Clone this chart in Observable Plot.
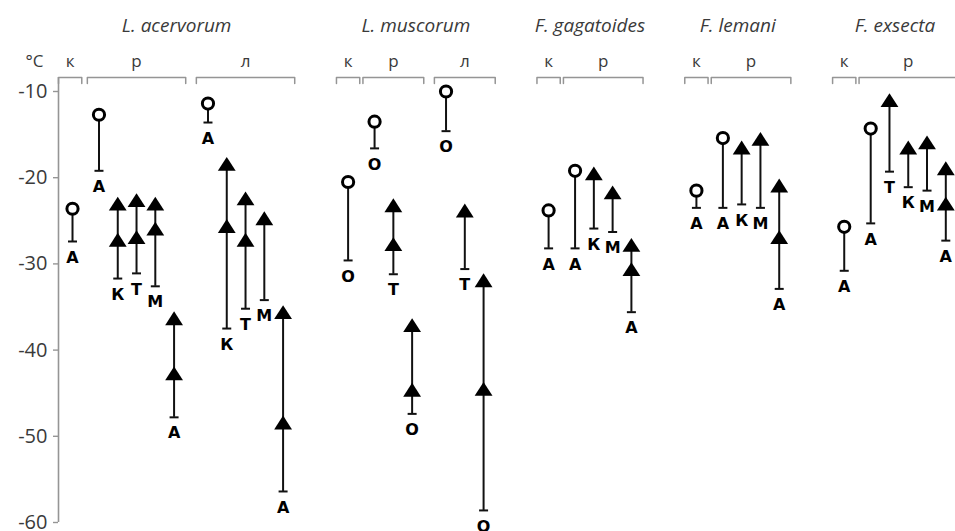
<!DOCTYPE html>
<html>
<head>
<meta charset="utf-8">
<script src="https://cdn.jsdelivr.net/npm/d3@7"></script>
<script src="https://cdn.jsdelivr.net/npm/@observablehq/plot@0.6"></script>
<style>
  html, body { margin: 0; padding: 0; background: #fff; }
  #chart svg { display: block; }
</style>
</head>
<body>
<div id="chart"></div>
<script>
// ---------- data ----------
const speciesNames = ["L. acervorum", "L. muscorum", "F. gagatoides", "F. lemani", "F. exsecta"];
const yTicks = [-10, -20, -30, -40, -50, -60];
const tempUnit = "°C";

// one entry per vertical bar
const elSpecies = [0,0,0,0,0,0,0,0,0,0,0, 1,1,1,1,1,1,1, 2,2,2,2,2, 3,3,3,3,3, 4,4,4,4,4,4];
const elGroup = ["к","р","р","р","р","р","л","л","л","л","л",
                 "к","р","р","р","л","л","л",
                 "к","р","р","р","р",
                 "к","р","р","р","р",
                 "к","р","р","р","р","р"];
const elMarker = ["o","o","t","t","t","t","o","t","t","t","t",
                  "o","o","t","t","o","t","t",
                  "o","o","t","t","t",
                  "o","o","t","t","t",
                  "o","o","t","t","t","t"];
const elTop = [-23.6,-12.7,-23.0,-22.6,-23.0,-36.3,-11.4,-18.4,-22.4,-24.7,-35.6,
               -20.5,-13.5,-23.2,-37.1,-10.0,-23.8,-31.9,
               -23.8,-19.2,-19.5,-21.7,-27.8,
               -21.5,-15.4,-16.5,-15.5,-20.9,
               -25.7,-14.3,-11.0,-16.5,-15.9,-18.9];
const elMid = [null,null,-27.2,-26.9,-25.9,-42.7,null,-25.6,-27.2,null,-48.4,
               null,null,-27.7,-44.6,null,null,-44.5,
               null,null,null,null,-30.6,
               null,null,null,null,-26.9,
               null,null,null,null,null,-23.0];
const elBottom = [-27.4,-19.2,-31.7,-31.1,-32.6,-47.8,-13.6,-37.5,-35.2,-34.2,-56.4,
                  -29.6,-16.6,-31.2,-47.4,-14.6,-30.6,-58.6,
                  -28.2,-28.2,-25.9,-26.3,-35.6,
                  -23.5,-23.5,-23.1,-23.5,-32.9,
                  -30.8,-25.3,-19.3,-21.1,-21.5,-27.3];
const elLabel = ["А","А","К","Т","М","А","А","К","Т","М","А",
                 "О","О","Т","О","О","Т","О",
                 "А","А","К","М","А",
                 "А","А","К","М","А",
                 "А","А","Т","К","М","А"];

// ---------- layout (slot units along x) ----------
const GAP_KR = 1.41, GAP_RL = 1.806, GAP_SP = 3.463, AXIS_X = -0.746, PAD = 0.62;
const Y_BR_TOP = -8.38, Y_BR_BOT = -9.07, Y_GROUP = -6.47, Y_TITLE = -2.41;

const els = [];
let cur = 0;
for (let i = 0; i < elTop.length; i++) {
  if (i > 0) {
    if (elSpecies[i] !== elSpecies[i-1]) cur += GAP_SP;
    else if (elGroup[i] !== elGroup[i-1]) cur += (elGroup[i] === "л" ? GAP_RL : GAP_KR);
    else cur += 1;
  }
  els.push({pos: cur, sp: elSpecies[i], grp: elGroup[i], marker: elMarker[i],
            top: elTop[i], mid: elMid[i], bottom: elBottom[i], label: elLabel[i]});
}
const xMax = cur;

// brackets per (species, group)
const groups = d3.groups(els, d => d.sp + "|" + d.grp).map(([key, arr], k) => {
  let left = d3.min(arr, d => d.pos) - PAD;
  let right = d3.max(arr, d => d.pos) + PAD;
  if (k === 0) { const w = right - left; left = AXIS_X; right = AXIS_X + w; }
  return {key, grp: arr[0].grp, sp: arr[0].sp, left, right, mid: (left + right) / 2};
});
const bracketPts = groups.flatMap(g => [
  {id: g.key, x: g.left, y: Y_BR_BOT}, {id: g.key, x: g.left, y: Y_BR_TOP},
  {id: g.key, x: g.right, y: Y_BR_TOP}, {id: g.key, x: g.right, y: Y_BR_BOT}
]);
const titles = speciesNames.map((name, s) => {
  const gs = groups.filter(g => g.sp === s);
  return {name, x: (d3.min(gs, g => g.left) + d3.max(gs, g => g.right)) / 2};
});

// custom symbols
const triSymbol = {draw(ctx, size) {
  const r = Math.sqrt(size / Math.PI), w = r * 2.7, h = r * 2.1;
  ctx.moveTo(0, -h / 2); ctx.lineTo(w / 2, h / 2); ctx.lineTo(-w / 2, h / 2); ctx.closePath();
}};
const capSymbol = {draw(ctx, size) {
  const r = Math.sqrt(size / Math.PI);
  ctx.moveTo(-r, 0); ctx.lineTo(r, 0);
}};

const textColor = "#3a3a3a", lineGray = "#959595", ink = "#111";

const chart = Plot.plot({
  width: 955, height: 531,
  marginLeft: 58, marginRight: 9.7, marginTop: 91, marginBottom: 9,
  x: {domain: [AXIS_X, xMax], axis: null},
  y: {domain: [-60, -10]},
  style: {fontFamily: "'Open Sans', sans-serif", background: "white", overflow: "visible"},
  marks: [
    // y axis line and ticks
    Plot.ruleX([AXIS_X], {y1: -60, y2: Y_BR_TOP, stroke: lineGray, strokeWidth: 1.6}),
    Plot.axisY({ticks: yTicks, tickSize: 5, tickPadding: 6, tickFormat: d => String(d),
                fontSize: 20, color: textColor, stroke: lineGray, strokeWidth: 1.4}),
    // headers
    Plot.line(bracketPts, {x: "x", y: "y", z: "id", stroke: lineGray, strokeWidth: 1.5}),
    Plot.text(groups, {x: "mid", y: Y_GROUP, text: "grp", fontSize: 17, fill: textColor}),
    Plot.text([tempUnit], {x: AXIS_X, y: Y_GROUP, text: d => d, dx: -15, textAnchor: "end", fontSize: 17, fill: textColor}),
    Plot.text(titles, {x: "x", y: Y_TITLE, text: "name", fontSize: 19, fontStyle: "italic", fill: textColor}),
    // bars
    Plot.ruleX(els, {x: "pos", y1: "top", y2: "bottom", stroke: ink, strokeWidth: 2}),
    Plot.dot(els, {x: "pos", y: "bottom", symbol: capSymbol, r: 4.5, stroke: ink, strokeWidth: 2, fill: "none"}),
    Plot.dot(els.filter(d => d.marker === "o"), {x: "pos", y: "top", r: 5.6, stroke: "#000", strokeWidth: 3, fill: "white"}),
    Plot.dot(els.filter(d => d.marker === "t"), {x: "pos", y: "top", symbol: triSymbol, r: 6.6, fill: "#000", stroke: "none"}),
    Plot.dot(els.filter(d => d.mid != null), {x: "pos", y: "mid", symbol: triSymbol, r: 6.6, fill: "#000", stroke: "none"}),
    Plot.text(els, {x: "pos", y: "bottom", text: "label", dy: 16, fontSize: 16, fontWeight: "bold",
                    fontFamily: "'DejaVu Sans', sans-serif", fill: "#000"})
  ]
});
document.getElementById("chart").appendChild(chart);
</script>
</body>
</html>
